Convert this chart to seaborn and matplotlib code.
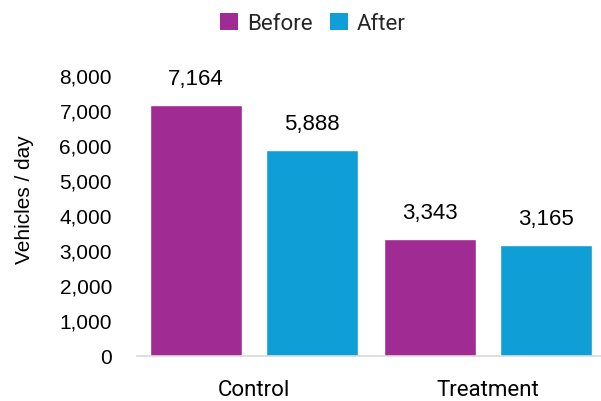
import matplotlib
matplotlib.use("Agg")
import matplotlib.pyplot as plt
import seaborn as sns
import pandas as pd
from matplotlib.patches import Patch
from matplotlib.ticker import FuncFormatter

# Traffic volumes before and after the intervention
groups = ["Control", "Treatment"]
periods = ["Before", "After"]
before = [7164, 3343]
after = [5888, 3165]

df = pd.DataFrame({
    "group": groups * 2,
    "period": ["Before"] * len(groups) + ["After"] * len(groups),
    "vehicles": before + after,
})

palette = {"Before": "#A02B93", "After": "#0F9ED5"}

sns.set_theme(style="white")
plt.rcParams["font.family"] = ["Roboto", "DejaVu Sans"]
arial_like = ["Liberation Sans", "DejaVu Sans"]

fig = plt.figure(figsize=(6.01, 4.01), dpi=100)
ax = fig.add_axes([137 / 601, 45 / 401, 464 / 601, 280 / 401])

sns.barplot(data=df, x="group", y="vehicles", hue="period", hue_order=periods,
            order=groups, palette=palette, width=0.99, gap=0.207,
            saturation=1, legend=False, ax=ax)

for container in ax.containers:
    ax.bar_label(container, labels=[f"{v:,.0f}" for v in container.datavalues],
                 padding=11, fontsize=16, color="#000000", family=arial_like)

ax.set_ylim(0, 8000)
ax.set_xlim(-0.5, -0.5 + 464 / 234)
ax.set_yticks(range(0, 8001, 1000))
ax.yaxis.set_major_formatter(FuncFormatter(lambda v, _: f"{v:,.0f}"))
for lbl in ax.get_yticklabels():
    lbl.set_fontfamily(arial_like)
ax.tick_params(axis="y", length=0, pad=18, labelsize=15, labelcolor="#000000")
ax.tick_params(axis="x", length=0, pad=17, labelsize=16, labelcolor="#000000")

ax.set_xlabel("")
ax.set_ylabel("Vehicles / day", fontsize=15, color="#000000", family=arial_like)
ax.yaxis.set_label_coords(-(137 - 34) / 464, (356 - 200) / 280)

for side in ["left", "right", "top"]:
    ax.spines[side].set_visible(False)
ax.spines["bottom"].set_color("#D9D9D9")
ax.spines["bottom"].set_linewidth(1.2)

handles = [Patch(facecolor=palette[p], edgecolor="none", label=p) for p in periods]
fig.legend(handles=handles, loc="center", bbox_to_anchor=(313 / 601, 1 - 24 / 401),
           ncol=2, frameon=False, fontsize=16, handlelength=0.8, handleheight=0.8,
           handletextpad=0.4, columnspacing=0.8, borderaxespad=0)

fig.savefig("out.png", dpi=100)
